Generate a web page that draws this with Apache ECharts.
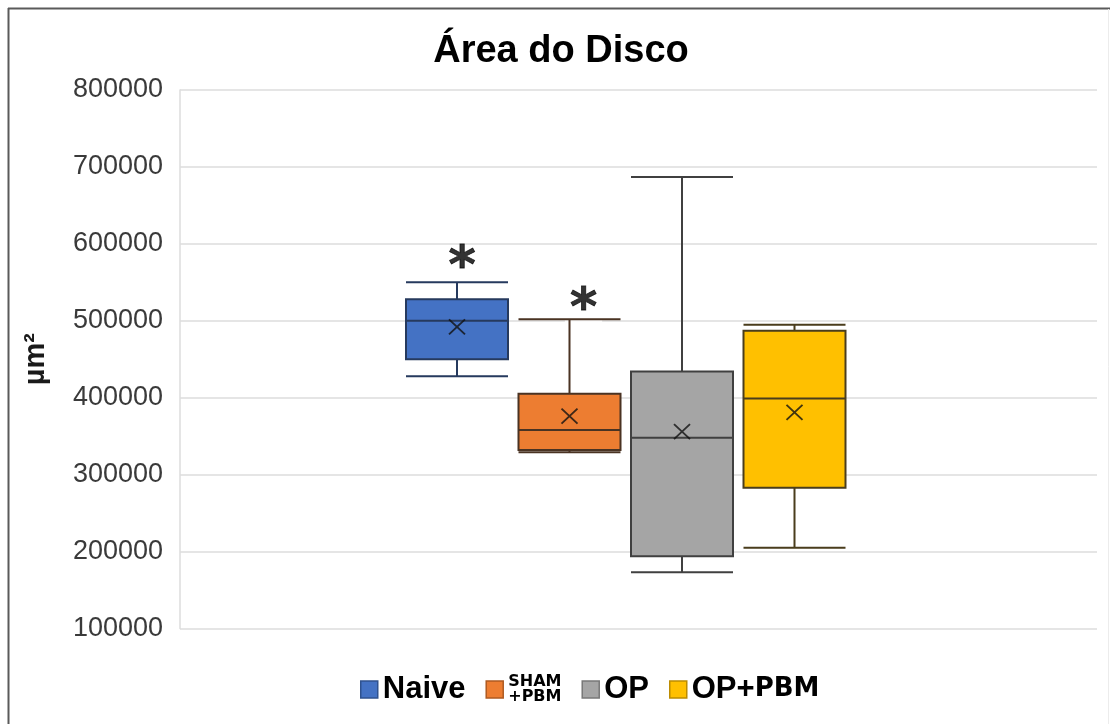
<!DOCTYPE html>
<html>
<head>
<meta charset="utf-8">
<script src="https://cdn.jsdelivr.net/npm/echarts@6/dist/echarts.min.js"></script>
<style>
html,body{margin:0;padding:0;background:#fff;}
#chart{width:1110px;height:724px;}
</style>
</head>
<body>
<div id="chart"></div>
<script>
// ---- data ----
var categories = ['Naive', 'SHAM+PBM', 'OP', 'OP+PBM'];
var mins    = [428000, 329000, 173000, 205000];
var q1s     = [450000, 332000, 194000, 283000];
var medians = [500000, 358000, 348000, 399000];
var q3s     = [528000, 405000, 434000, 487000];
var maxs    = [550000, 502000, 687000, 495000];
var means   = [492000, 376000, 356000, 381000];
var significance = ['*', '*', '', ''];
var yMin = 100000, yMax = 800000, yStep = 100000;

// ---- styles ----
var fills = ['#4472C4', '#ED7D31', '#A5A5A5', '#FFC000'];
var strokes = ['#263a5e', '#4a3323', '#404040', '#4a3d1c'];
var legendStrokes = ['#2f528f', '#ae5a21', '#787878', '#bc8c00'];
var starOffsets = [[5, 4], [14, 9]];

var chart = echarts.init(document.getElementById('chart'));

var xAxes = [{
  gridIndex: 0, type: 'category', data: [''], show: false
}];
categories.forEach(function () {
  xAxes.push({ gridIndex: 1, type: 'category', data: categories, show: false });
});

var series = [];
categories.forEach(function (c, i) {
  series.push({
    name: c,
    type: 'boxplot',
    xAxisIndex: i + 1,
    yAxisIndex: 1,
    boxWidth: [102, 102],
    encode: { x: 0, y: [1, 2, 3, 4, 5] },
    data: [[i, mins[i], q1s[i], medians[i], q3s[i], maxs[i]]],
    itemStyle: { color: fills[i], borderColor: strokes[i], borderWidth: 2 },
    emphasis: { disabled: true },
    z: 3
  });
});

series.push({
  name: 'mean',
  type: 'scatter',
  xAxisIndex: 1,
  yAxisIndex: 1,
  symbol: 'path://M0,0L10,10M10,0L0,10',
  symbolSize: [16, 15],
  data: categories.map(function (c, i) { return [i, means[i]]; }),
  itemStyle: { color: 'rgba(0,0,0,0)', borderColor: '#111', borderWidth: 1.8 },
  z: 5,
  silent: true
});

var starData = [];
significance.forEach(function (s, i) {
  if (s) {
    starData.push({
      value: [i, maxs[i]],
      label: { offset: starOffsets[i] || [0, 0] }
    });
  }
});
series.push({
  name: 'sig',
  type: 'scatter',
  xAxisIndex: 1,
  yAxisIndex: 1,
  symbolSize: 1,
  itemStyle: { color: 'rgba(0,0,0,0)' },
  data: starData,
  label: {
    show: true,
    position: 'top',
    distance: 0,
    formatter: function (p) { return significance[p.value[0]]; },
    fontFamily: 'DejaVu Sans',
    fontWeight: 'bold',
    fontSize: 52,
    lineHeight: 34,
    color: '#000',
    textBorderColor: '#000',
    textBorderWidth: 0.8,
    backgroundColor: '#fff',
    padding: [0, 5, 0, 5]
  },
  z: 2,
  silent: true
});

var option = {
  animation: false,
  backgroundColor: '#fff',
  title: {
    text: 'Área do Disco',
    left: 556,
    textAlign: 'center',
    top: 28,
    textStyle: { fontFamily: 'Liberation Sans', fontWeight: 'bold', fontSize: 38, color: '#000' }
  },
  grid: [
    { left: 180, right: 13, top: 90, bottom: 95.5 },
    { left: 400.75, width: 450, top: 90, bottom: 95.5 }
  ],
  xAxis: xAxes,
  yAxis: [{
    gridIndex: 0,
    type: 'value',
    min: yMin, max: yMax, interval: yStep,
    name: 'µm²',
    nameLocation: 'middle',
    nameGap: 130,
    nameTextStyle: { fontFamily: 'Liberation Sans', fontWeight: 'bold', fontSize: 29, color: '#1a1a1a' },
    axisLine: { show: true, lineStyle: { color: '#dcdcdc', width: 1.5 } },
    axisTick: { show: false },
    axisLabel: {
      fontFamily: 'Liberation Sans', fontSize: 27, color: '#3a3a3a', margin: 17,
      formatter: function (v) { return String(v); }
    },
    splitLine: { show: true, lineStyle: { color: '#dcdcdc', width: 1.5 } }
  }, {
    gridIndex: 1,
    type: 'value',
    min: yMin, max: yMax, interval: yStep,
    show: false,
    splitLine: { show: false }
  }],
  legend: {
    data: categories.map(function (c, i) {
      return { name: c, itemStyle: { color: fills[i], borderColor: legendStrokes[i], borderWidth: 1.5 } };
    }),
    left: 355,
    top: 669,
    icon: 'rect',
    itemWidth: 17,
    itemHeight: 17,
    itemGap: 20,
    selectedMode: false,
    formatter: function (n) {
      if (n === 'Naive') return '{b|Naive}';
      if (n === 'SHAM+PBM') return '{s|SHAM}\n{s|+PBM}';
      if (n === 'OP') return '{b|OP}';
      if (n === 'OP+PBM') return '{b|OP+}{v|PBM}';
      return n;
    },
    textStyle: {
      rich: {
        b: { fontFamily: 'Liberation Sans', fontWeight: 'bold', fontSize: 31, color: '#000' },
        s: { fontFamily: 'DejaVu Sans', fontWeight: 'bold', fontSize: 16, lineHeight: 15, color: '#000' },
        v: { fontFamily: 'DejaVu Sans', fontWeight: 'bold', fontSize: 26, color: '#000' }
      }
    }
  },
  graphic: [
    { type: 'line', shape: { x1: 8, y1: 8.5, x2: 1110, y2: 8.5 }, style: { stroke: '#5a5a5a', lineWidth: 2 }, silent: true },
    { type: 'line', shape: { x1: 8.5, y1: 8, x2: 8.5, y2: 724 }, style: { stroke: '#5a5a5a', lineWidth: 2 }, silent: true },
    { type: 'line', shape: { x1: 1108.5, y1: 9, x2: 1108.5, y2: 724 }, style: { stroke: '#ececec', lineWidth: 1 }, silent: true }
  ],
  series: series
};

chart.setOption(option);
</script>
</body>
</html>
